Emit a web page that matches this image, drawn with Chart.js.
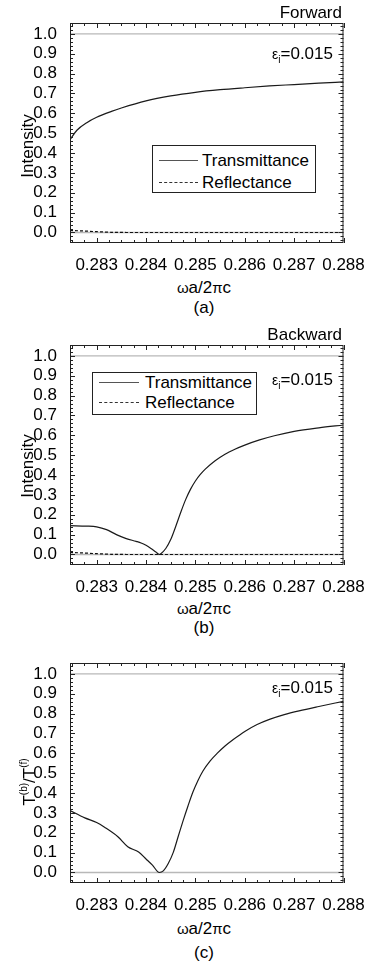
<!DOCTYPE html>
<html lang="en">
<head>
  <meta charset="UTF-8" />
  <title>Transmittance / Reflectance, forward and backward</title>
  <script src="https://cdn.jsdelivr.net/npm/chart.js"></script>
  <style>
    * {
      box-sizing: border-box;
      margin: 0;
      padding: 0;
    }

    body {
      width: 369px;
      height: 961px;
      background: #fff;
      position: relative;
      overflow: hidden;
      font-family: "Liberation Sans", Arial, sans-serif;
      color: #000;
    }

    .wrap {
      position: absolute;
      left: 0;
      width: 369px;
      height: 270px;
    }

    .t {
      position: absolute;
      font-size: 17px;
      line-height: 1;
      white-space: nowrap;
    }

    .c { transform: translate(-50%, -50%); }
    .r { transform: translateY(-50%); }
    .rot { transform: translate(-50%, -50%) rotate(-90deg); }

    .eps { font-size: 14px; }
    .eps sub { font-size: 10px; vertical-align: -4px; }
    .sym { font-size: 15px; }
    .rot sup { font-size: 10px; vertical-align: 8px; }

    .legend {
      position: absolute;
      border: 1px solid #222;
      background: #fff;
    }

    .legend .sample {
      position: absolute;
      height: 0;
      border-top: 1.3px solid #555;
    }

    .legend .sample.dash {
      border-top: 1.3px dashed #333;
    }
  </style>
</head>
<body>
  <div class="wrap" style="top:0"><canvas id="chartA"></canvas></div>
  <div class="wrap" style="top:322px"><canvas id="chartB"></canvas></div>
  <div class="wrap" style="top:640px"><canvas id="chartC"></canvas></div>

  <!-- (a) -->
  <div class="t r" style="right:27px; top:12px">Forward</div>
  <div class="t r" style="right:36px; top:55px"><span class="eps">ε<sub>i</sub></span>=0.015</div>
  <div class="t rot" style="left:27px; top:146px">Intensity</div>
  <div class="t c" style="left:204px; top:287px"><span class="sym">ω</span>a/2<span class="sym">π</span>c</div>
  <div class="t c" style="left:204px; top:307px">(a)</div>
  <div class="legend" style="left:152px; top:145px; width:164px; height:48px">
    <div class="sample" style="left:6px; width:39px; top:14px"></div>
    <div class="t r" style="left:49px; top:14px">Transmittance</div>
    <div class="sample dash" style="left:6px; width:39px; top:36px"></div>
    <div class="t r" style="left:49px; top:36px">Reflectance</div>
  </div>

  <!-- (b) -->
  <div class="t r" style="right:27px; top:334px">Backward</div>
  <div class="t r" style="right:36px; top:381px"><span class="eps">ε<sub>i</sub></span>=0.015</div>
  <div class="t rot" style="left:27px; top:466px">Intensity</div>
  <div class="t c" style="left:204px; top:608px"><span class="sym">ω</span>a/2<span class="sym">π</span>c</div>
  <div class="t c" style="left:204px; top:627px">(b)</div>
  <div class="legend" style="left:92px; top:372px; width:165px; height:43px">
    <div class="sample" style="left:6px; width:40px; top:9px"></div>
    <div class="t r" style="left:52px; top:9px">Transmittance</div>
    <div class="sample dash" style="left:6px; width:40px; top:29px"></div>
    <div class="t r" style="left:52px; top:29px">Reflectance</div>
  </div>

  <!-- (c) -->
  <div class="t r" style="right:36px; top:689px"><span class="eps">ε<sub>i</sub></span>=0.015</div>
  <div class="t rot" style="left:28px; top:782px">T<sup>(b)</sup>/T<sup>(f)</sup></div>
  <div class="t c" style="left:204px; top:928px"><span class="sym">ω</span>a/2<span class="sym">π</span>c</div>
  <div class="t c" style="left:204px; top:952px">(c)</div>

<script>
  // axis ticks
  const xTicks = [0.283, 0.284, 0.285, 0.286, 0.287, 0.288];
  const yTicks = [0, 0.1, 0.2, 0.3, 0.4, 0.5, 0.6, 0.7, 0.8, 0.9, 1.0];
  const refLevels = [0, 1];

  // (a) forward
  const freqA  = [0.28246, 0.2826, 0.2828, 0.2830, 0.2833, 0.2835, 0.2840, 0.2845, 0.2850, 0.2855, 0.2860, 0.2865, 0.2870, 0.2875, 0.2880];
  const transA = [0.468, 0.515, 0.553, 0.580, 0.610, 0.627, 0.663, 0.688, 0.706, 0.719, 0.729, 0.738, 0.745, 0.752, 0.758];
  const freqRA = [0.28246, 0.2827, 0.2830, 0.2833, 0.2836, 0.2845, 0.2860, 0.2880];
  const reflA  = [0.010, 0.008, 0.004, 0.001, 0.0, 0.0, 0.0, 0.0];

  // (b) backward
  const freqB  = [0.28246, 0.2828, 0.2830, 0.2832, 0.2834, 0.2836, 0.2838, 0.2839, 0.2840, 0.2841, 0.2842, 0.28427, 0.2843, 0.2844, 0.2845, 0.2846, 0.2847, 0.2848, 0.2849, 0.2850, 0.2851, 0.2852, 0.2854, 0.2856, 0.2858, 0.2860, 0.2863, 0.2866, 0.2870, 0.2875, 0.2880];
  const transB = [0.145, 0.143, 0.139, 0.125, 0.100, 0.080, 0.066, 0.058, 0.046, 0.030, 0.012, 0.0, 0.004, 0.030, 0.075, 0.140, 0.210, 0.275, 0.328, 0.370, 0.403, 0.430, 0.472, 0.505, 0.530, 0.551, 0.577, 0.598, 0.620, 0.638, 0.652];
  const freqRB = [0.28246, 0.2827, 0.2830, 0.2833, 0.2836, 0.2845, 0.2860, 0.2880];
  const reflB  = [0.010, 0.008, 0.004, 0.001, 0.0, 0.0, 0.0, 0.0];

  // (c) ratio T(b)/T(f)
  const freqC  = [0.28246, 0.28276, 0.2830, 0.28316, 0.28343, 0.28363, 0.28385, 0.2840, 0.28413, 0.28427, 0.28435, 0.28445, 0.28455, 0.28465, 0.28475, 0.28485, 0.28495, 0.28505, 0.28515, 0.2853, 0.28545, 0.2856, 0.28576, 0.2860, 0.28625, 0.2865, 0.2868, 0.2871, 0.2875, 0.2880];
  const ratioC = [0.312, 0.275, 0.252, 0.228, 0.180, 0.130, 0.103, 0.068, 0.037, 0.0, 0.008, 0.045, 0.100, 0.180, 0.260, 0.335, 0.405, 0.462, 0.510, 0.562, 0.602, 0.637, 0.668, 0.710, 0.745, 0.771, 0.795, 0.814, 0.836, 0.862];

  const X_MIN = 0.28246, X_MAX = 0.288;
  const Y_MIN = -0.053, Y_MAX = 1.055;
  const FONT = { family: '"Liberation Sans", Arial, sans-serif', size: 17 };

  function pts(xs, ys) {
    return xs.map((x, i) => ({ x: x, y: ys[i] }));
  }

  function curve(xs, ys, dashed) {
    return {
      data: pts(xs, ys),
      borderColor: dashed ? "#111" : "#1a1a1a",
      borderWidth: 1.2,
      borderDash: dashed ? [3, 2] : [],
      cubicInterpolationMode: "monotone",
      order: dashed ? 0 : 1,
    };
  }

  function refLines() {
    return refLevels.map((lv) => ({
      data: [{ x: X_MIN, y: lv }, { x: X_MAX, y: lv }],
      borderColor: "#b8b8b8",
      borderWidth: 1.3,
      order: 5,
    }));
  }

  // frame + inward ticks on all four sides
  const frameTicks = {
    id: "frameTicks",
    afterDraw(chart) {
      const { ctx, chartArea: a, scales } = chart;
      const x = scales.x, y = scales.y;
      ctx.save();
      ctx.strokeStyle = "#222";
      ctx.lineWidth = 1;
      ctx.strokeRect(a.left + 0.5, a.top + 0.5, a.width - 1, a.height - 1);
      ctx.beginPath();
      const xStep = 0.00025;
      for (let k = Math.ceil(X_MIN / xStep); k * xStep <= X_MAX + 1e-9; k++) {
        const v = k * xStep;
        const major = Math.abs(v * 1000 - Math.round(v * 1000)) < 1e-6;
        const len = major ? 5 : 3;
        const px = Math.round(x.getPixelForValue(v)) + 0.5;
        ctx.moveTo(px, a.bottom); ctx.lineTo(px, a.bottom - len);
        ctx.moveTo(px, a.top); ctx.lineTo(px, a.top + len);
      }
      const yStep = 0.02;
      for (let k = Math.ceil(Y_MIN / yStep); k * yStep <= Y_MAX; k++) {
        const v = k * yStep;
        const major = k % 5 === 0;
        const len = major ? 5 : 3;
        const py = Math.round(y.getPixelForValue(v)) + 0.5;
        ctx.moveTo(a.left, py); ctx.lineTo(a.left + len, py);
        ctx.moveTo(a.right, py); ctx.lineTo(a.right - len, py);
      }
      ctx.stroke();
      ctx.restore();
    },
  };

  function makeChart(id, datasets) {
    return new Chart(document.getElementById(id), {
      type: "line",
      data: { datasets: datasets },
      options: {
        responsive: true,
        maintainAspectRatio: false,
        animation: false,
        layout: { padding: { top: 23, right: 25.5, left: 0, bottom: 0 } },
        plugins: { legend: { display: false }, tooltip: { enabled: false } },
        elements: { point: { radius: 0 } },
        scales: {
          x: {
            type: "linear",
            min: X_MIN,
            max: X_MAX,
            grid: { display: false },
            border: { display: false },
            ticks: {
              font: FONT,
              color: "#000",
              padding: 4,
              maxRotation: 0,
              autoSkip: false,
              callback: (v) => v.toFixed(3),
            },
            afterBuildTicks: (s) => { s.ticks = xTicks.map((v) => ({ value: v })); },
            afterFit: (s) => { s.height = 27; },
          },
          y: {
            type: "linear",
            min: Y_MIN,
            max: Y_MAX,
            grid: { display: false },
            border: { display: false },
            ticks: {
              font: FONT,
              color: "#000",
              padding: 5,
              autoSkip: false,
              callback: (v) => v.toFixed(1),
            },
            afterBuildTicks: (s) => { s.ticks = yTicks.map((v) => ({ value: v })); },
            afterFit: (s) => { s.width = 70; },
          },
        },
      },
      plugins: [frameTicks],
    });
  }

  makeChart("chartA", [curve(freqA, transA, false), curve(freqRA, reflA, true)].concat(refLines()));
  makeChart("chartB", [curve(freqB, transB, false), curve(freqRB, reflB, true)].concat(refLines()));
  makeChart("chartC", [curve(freqC, ratioC, false)].concat(refLines()));
</script>
</body>
</html>
